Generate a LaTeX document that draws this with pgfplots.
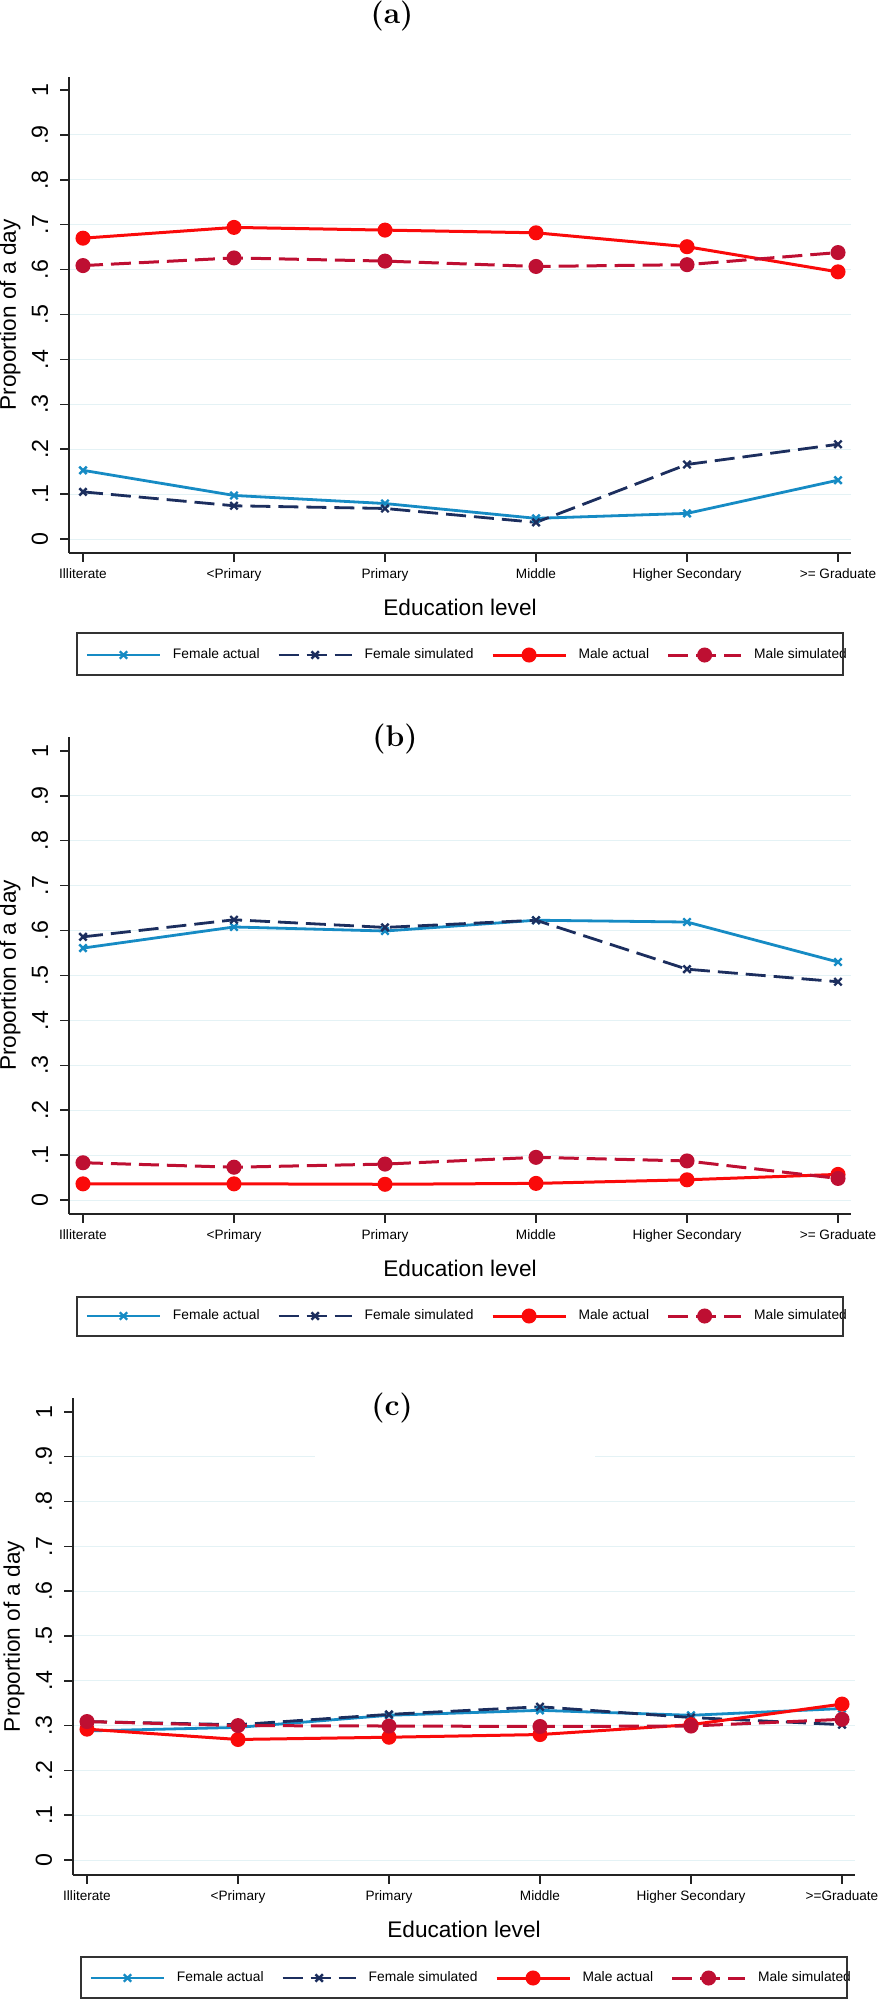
\documentclass[border=0pt]{standalone}
\usepackage{pgfplots}
\pgfplotsset{compat=1.18}
\usepackage{fontspec}
\setsansfont{Liberation Sans}
\definecolor{fa}{RGB}{22,139,196}
\definecolor{fs}{RGB}{28,46,94}
\definecolor{ma}{RGB}{250,10,10}
\definecolor{ms}{RGB}{190,15,50}
\definecolor{gridc}{RGB}{228,242,245}
\definecolor{axc}{RGB}{35,35,35}
\newcommand{\tickfont}{\sffamily\fontsize{6.8bp}{8bp}\selectfont}
\newcommand{\labfont}{\sffamily\fontsize{11.3bp}{13bp}\selectfont}
\newcommand{\ytfont}{\sffamily\fontsize{11.6bp}{13bp}\selectfont}
\newcommand{\legfont}{\sffamily\fontsize{6.9bp}{8bp}\selectfont}
\pgfplotsset{
  panel/.style={
    scale only axis, width=391bp,
    axis lines=left, axis line style={-, axc, line width=0.75bp},
    xmin=-0.0927, xmax=5.086,
    xtick={0,1,2,3,4,5},
    tick align=inside, major tick length=-4.5bp,
    tick style={axc, line width=0.75bp},
    ytick={0,0.1,0.2,0.3,0.4,0.5,0.6,0.7,0.8,0.9},
    yticklabels={0,.1,.2,.3,.4,.5,.6,.7,.8,.9},
    extra y ticks={1}, extra y tick labels={1},
    extra y tick style={grid=none},
    ymajorgrids, major grid style={gridc, line width=0.5bp},
    xticklabel style={font=\tickfont, inner sep=0pt, anchor=north},
    xticklabel shift=7.5bp,
    yticklabel style={font=\ytfont, inner sep=0pt, rotate=90, anchor=south},
    yticklabel shift=10.25bp,
    xlabel={Education level}, ylabel={Proportion of a day},
    every axis x label/.style={at={(rel axis cs:0.5,-0.1133)}, anchor=center, font=\labfont},
    every axis y label/.style={at={(rel axis cs:-0.0754,0.5)}, rotate=90, anchor=center, font=\labfont},
    legend columns=4, legend cell align=left,
    legend image code/.code={%
      \pgfpathrectangle{\pgfqpoint{-9.5bp}{-1bp}}{\pgfqpoint{52.5bp}{2bp}}\pgfusepath{discard}%
      \draw[mark repeat=2,mark phase=2] plot coordinates {(0bp,0bp) (18.25bp,0bp) (36.5bp,0bp)};},
    legend style={draw=none, fill=none, anchor=west, inner sep=0pt, outer sep=0pt,
      font=\legfont, nodes={inner sep=0pt, outer sep=0pt}, column sep=0pt},
  },
  sfa/.style={color=fa, line width=1.4bp, mark=x, mark size=2.6bp, mark options={solid, line width=1.2bp}},
  sfs/.style={color=fs, line width=1.4bp, dash pattern=on 10bp off 4bp, mark=x, mark size=2.6bp, mark options={solid, line width=1.2bp}},
  sma/.style={color=ma, line width=1.5bp, mark=*, mark size=3bp, mark options={solid}},
  sms/.style={color=ms, line width=1.5bp, dash pattern=on 10bp off 4bp, mark=*, mark size=3bp, mark options={solid}},
}
\begin{document}
\begin{tikzpicture}
\path[use as bounding box] (0,0) rectangle (439bp,-1000bp);
% ---------------- (a)
\begin{axis}[panel, height=238bp, ymin=-0.0312, ymax=1.029,
  at={(34.5bp,-276.5bp)}, anchor=south west,
  xticklabels={Illiterate,<Primary,Primary,Middle,Higher Secondary,>= Graduate},
  legend style={at={(rel axis cs:-0.0013,-0.2143)}}]
\addplot[sfa] coordinates {(0,0.153) (1,0.097) (2,0.079) (3,0.046) (4,0.057) (5,0.131)};
\addlegendentry{Female actual}
\addplot[sfs] coordinates {(0,0.105) (1,0.074) (2,0.068) (3,0.037) (4,0.166) (5,0.211)};
\addlegendentry{Female simulated}
\addplot[sma] coordinates {(0,0.670) (1,0.694) (2,0.688) (3,0.682) (4,0.651) (5,0.595)};
\addlegendentry{Male actual}
\addplot[sms] coordinates {(0,0.609) (1,0.626) (2,0.619) (3,0.607) (4,0.611) (5,0.638)};
\addlegendentry{Male simulated}
\end{axis}
% ---------------- (b)
\begin{axis}[panel, height=238.5bp, ymin=-0.0312, ymax=1.031,
  at={(34.5bp,-607bp)}, anchor=south west,
  xticklabels={Illiterate,<Primary,Primary,Middle,Higher Secondary,>= Graduate},
  legend style={at={(rel axis cs:-0.0013,-0.2138)}}]
\addplot[sfa] coordinates {(0,0.561) (1,0.608) (2,0.599) (3,0.623) (4,0.619) (5,0.530)};
\addlegendentry{Female actual}
\addplot[sfs] coordinates {(0,0.586) (1,0.624) (2,0.607) (3,0.623) (4,0.514) (5,0.486)};
\addlegendentry{Female simulated}
\addplot[sma] coordinates {(0,0.036) (1,0.036) (2,0.035) (3,0.037) (4,0.045) (5,0.057)};
\addlegendentry{Male actual}
\addplot[sms] coordinates {(0,0.083) (1,0.073) (2,0.080) (3,0.095) (4,0.087) (5,0.048)};
\addlegendentry{Male simulated}
\end{axis}
% ---------------- (c)
\begin{axis}[panel, height=238.5bp, ymin=-0.0335, ymax=1.031,
  at={(36.5bp,-937.5bp)}, anchor=south west,
  xticklabels={Illiterate,<Primary,Primary,Middle,Higher Secondary,>=Graduate},
  legend style={at={(rel axis cs:-0.0013,-0.2159)}}]
\addplot[sfa] coordinates {(0,0.288) (1,0.296) (2,0.323) (3,0.334) (4,0.323) (5,0.338)};
\addlegendentry{Female actual}
\addplot[sfs] coordinates {(0,0.309) (1,0.302) (2,0.325) (3,0.342) (4,0.318) (5,0.302)};
\addlegendentry{Female simulated}
\addplot[sma] coordinates {(0,0.292) (1,0.269) (2,0.274) (3,0.280) (4,0.302) (5,0.348)};
\addlegendentry{Male actual}
\addplot[sms] coordinates {(0,0.309) (1,0.300) (2,0.299) (3,0.298) (4,0.299) (5,0.314)};
\addlegendentry{Male simulated}
\end{axis}
% white patch over the .9 grid line in (c)
\fill[white] (157.5bp,-726.4bp) rectangle (297.5bp,-730.4bp);
% legend frames
\draw[black!80, line width=0.7bp] (38.5bp,-316.5bp) rectangle (421.5bp,-337.5bp);
\draw[black!80, line width=0.7bp] (38.5bp,-648.5bp) rectangle (421.5bp,-668bp);
\draw[black!80, line width=0.7bp] (40.5bp,-978.5bp) rectangle (423.5bp,-999bp);
% panel titles
\node[font=\bfseries\fontsize{15bp}{18bp}\selectfont] at (196bp,-8bp) {(a)};
\node[font=\bfseries\fontsize{15bp}{18bp}\selectfont] at (197.5bp,-369.5bp) {(b)};
\node[font=\bfseries\fontsize{15bp}{18bp}\selectfont] at (196bp,-704bp) {(c)};
\end{tikzpicture}
\end{document}
